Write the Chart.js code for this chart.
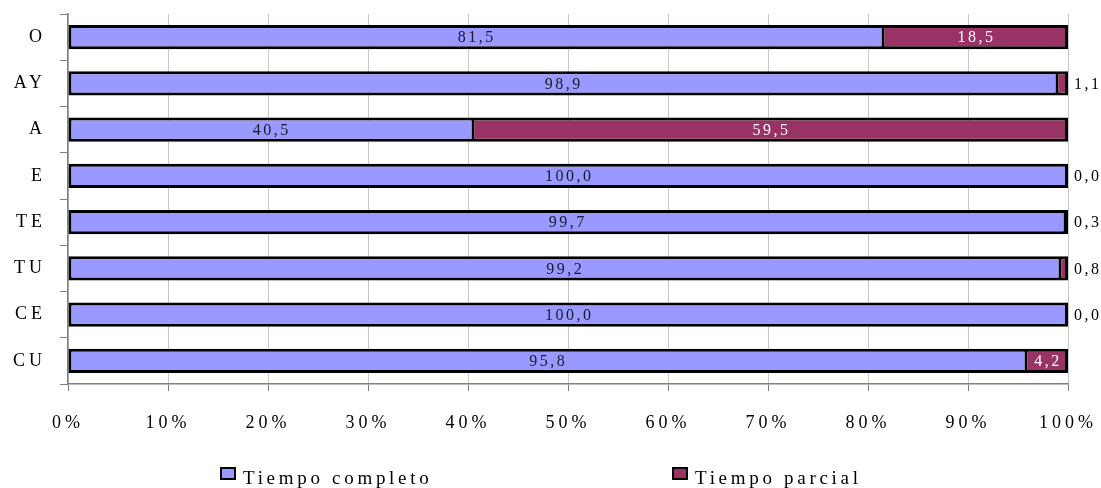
<!DOCTYPE html>
<html>
<head>
<meta charset="utf-8">
<script src="https://cdn.jsdelivr.net/npm/chart.js@4.4.1/dist/chart.umd.min.js"></script>
<style>
  html, body { margin: 0; padding: 0; background: #fff; }
  #wrap { width: 1101px; height: 488px; position: relative; }
</style>
</head>
<body>
<div id="wrap"><canvas id="myChart"></canvas></div>
<script>
// Tiempo completo / parcial por categoría (%)
var categorias = ['O', 'AY', 'A', 'E', 'TE', 'TU', 'CE', 'CU'];
var completo = [81.5, 98.9, 40.5, 100.0, 99.7, 99.2, 100.0, 95.8];
var parcial = [18.5, 1.1, 59.5, 0.0, 0.3, 0.8, 0.0, 4.2];
var nombres = ['Tiempo completo', 'Tiempo parcial'];
var colores = ['#9999FF', '#993366'];

var FUENTE = "'Liberation Serif', 'Times New Roman', serif";

function coma(v) {
	return v.toFixed(1).replace('.', ',');
}

// espaciado de letras como en el original
var espaciado = {
	id: 'espaciado',
	beforeUpdate: function(chart) { chart.ctx.letterSpacing = '4px'; },
	beforeDraw: function(chart) { chart.ctx.letterSpacing = '4px'; }
};

// etiquetas de valores
var etiquetas = {
	id: 'etiquetas',
	afterDatasetsDraw: function(chart) {
		var ctx = chart.ctx;
		ctx.save();
		ctx.font = '16px ' + FUENTE;
		ctx.letterSpacing = '2.5px';
		ctx.textBaseline = 'middle';
		chart.data.datasets.forEach(function(ds, i) {
			var meta = chart.getDatasetMeta(i);
			meta.data.forEach(function(bar, j) {
				var v = ds.data[j];
				var x0 = bar.base, x1 = bar.x;
				if (i === 1 && v < 3) {
					ctx.fillStyle = '#000';
					ctx.textAlign = 'left';
					ctx.fillText(coma(v), x1 + 6, bar.y + 1);
				} else {
					ctx.fillStyle = i === 0 ? '#1a1a2a' : '#ffffff';
					ctx.textAlign = 'center';
					ctx.fillText(coma(v), (x0 + x1) / 2 + 1, bar.y + 1);
				}
			});
		});
		ctx.restore();
	}
};

// leyenda
var leyenda = {
	id: 'leyenda',
	afterDraw: function(chart) {
		var ctx = chart.ctx;
		var xs = [220, 672];
		ctx.save();
		ctx.font = '19px ' + FUENTE;
		ctx.letterSpacing = '3.7px';
		ctx.textBaseline = 'middle';
		ctx.textAlign = 'left';
		for (var k = 0; k < 2; k++) {
			ctx.fillStyle = colores[k];
			ctx.fillRect(xs[k], 467, 16, 13);
			ctx.strokeStyle = '#000';
			ctx.lineWidth = 2;
			ctx.strokeRect(xs[k] + 1, 468, 14, 11);
			ctx.fillStyle = '#000';
			ctx.fillText(nombres[k], xs[k] + 23, 479);
		}
		ctx.restore();
	}
};

window.onload = function() {
	var ctxMyChart = document.getElementById('myChart').getContext('2d');
	var myChart = new Chart(ctxMyChart, {
		type: 'bar',
		data: {
			labels: categorias,
			datasets: [{
				label: nombres[0],
				backgroundColor: colores[0],
				borderColor: '#000',
				borderWidth: function(c) {
					return { top: 3, bottom: 3, left: 3, right: parcial[c.dataIndex] > 0 ? 1.5 : 3 };
				},
				borderSkipped: false,
				inflateAmount: 0,
				data: completo
			}, {
				label: nombres[1],
				backgroundColor: colores[1],
				borderColor: '#000',
				borderWidth: { top: 3, bottom: 3, left: 1.5, right: 3 },
				borderSkipped: false,
				inflateAmount: 0,
				data: parcial
			}]
		},
		options: {
			indexAxis: 'y',
			responsive: true,
			maintainAspectRatio: false,
			animation: false,
			barPercentage: 0.52,
			categoryPercentage: 1,
			layout: { padding: { left: 0, top: 14, right: 33, bottom: 54 } },
			plugins: {
				legend: { display: false },
				tooltip: { enabled: false }
			},
			scales: {
				x: {
					stacked: true,
					min: 0,
					max: 100,
					afterFit: function(s) { s.height = 50; s.paddingLeft = 0; s.paddingRight = 0; },
					ticks: {
						stepSize: 10,
						color: '#000',
						font: { family: FUENTE, size: 18 },
						padding: 21,
						maxRotation: 0,
						callback: function(v) { return v + '%'; }
					},
					grid: { color: '#c8c8c8', tickColor: '#808080', tickLength: 7 },
					border: { color: '#808080', width: 1.5 }
				},
				y: {
					stacked: true,
					afterFit: function(s) { s.width = 68; s.paddingTop = 0; s.paddingBottom = 0; },
					ticks: {
						color: '#000',
						font: { family: FUENTE, size: 18 },
						padding: 14
					},
					grid: { drawOnChartArea: false, offset: true, tickColor: '#808080', tickLength: 8 },
					border: { color: '#808080', width: 1.5 }
				}
			}
		},
		plugins: [espaciado, etiquetas, leyenda]
	});
};
</script>
</body>
</html>
